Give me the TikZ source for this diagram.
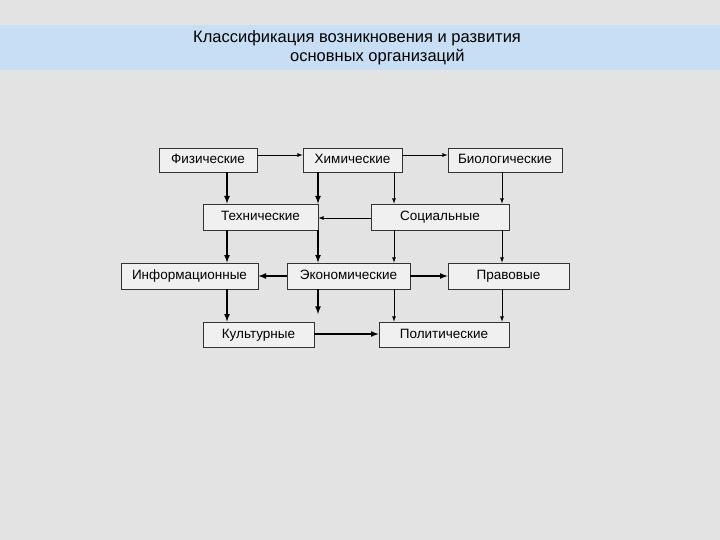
\documentclass[tikz,border=0pt]{standalone}
\usepackage{fontspec}
\setmainfont{Liberation Sans}
\definecolor{band}{RGB}{200,222,245}
\begin{document}
\begin{tikzpicture}[x=1pt,y=-1pt,
  box/.style={draw=black!80,line width=0.8pt,fill=gray!12,font=\fontsize{13.5}{15}\selectfont,text height=7pt,text depth=0pt},
  arr/.style={-latex,line width=0.8pt},
  tarr/.style={-latex,line width=1.6pt}]
\fill[gray!22] (0,0) rectangle (720,540);
\fill[band] (0,25) rectangle (720,70);
\node[font=\fontsize{16.5}{19}\selectfont,anchor=west,inner sep=0] (title1) at (193,38) {Классификация возникновения и развития};
\node[font=\fontsize{16.5}{19}\selectfont,anchor=west,inner sep=0] (title2) at (290,57) {основных организаций};
\newcommand{\bx}[6]{\node[box,minimum width=#4-#2,minimum height=#5-#3,inner sep=0] (#1) at ({(#2+#4)/2},{(#3+#5)/2}) {#6};}
\bx{fiz}{159}{148}{257}{172}{Физические}
\bx{him}{303}{148}{402}{172}{Химические}
\bx{bio}{448}{148}{562}{172}{Биологические}
\bx{teh}{203}{204}{318}{230}{Технические}
\bx{soc}{371}{204}{509}{230}{Социальные}
\bx{inf}{121}{263}{258}{289}{Информационные}
\bx{eko}{287}{263}{410}{289}{Экономические}
\bx{pra}{448}{263}{569}{289}{Правовые}
\bx{kul}{203}{322}{314}{347}{Культурные}
\bx{pol}{379}{322}{509}{347}{Политические}
\draw[arr] (fiz.east|-0,155) -- (him.west|-0,155);
\draw[arr] (him.east|-0,155) -- (bio.west|-0,155);
\draw[tarr] (fiz.south-|227,0) -- (teh.north-|227,0);
\draw[tarr] (him.south-|318,0) -- (teh.north-|318,0);
\draw[arr] (him.south-|394,0) -- (soc.north-|394,0);
\draw[arr] (bio.south-|502,0) -- (soc.north-|502,0);
\draw[arr] (soc.west|-0,218) -- (teh.east|-0,218);
\draw[tarr] (teh.south-|227,0) -- (inf.north-|227,0);
\draw[tarr] (teh.south-|318,0) -- (eko.north-|318,0);
\draw[arr] (soc.south-|394,0) -- (eko.north-|394,0);
\draw[arr] (soc.south-|502,0) -- (pra.north-|502,0);
\draw[tarr] (eko.west|-0,276) -- (inf.east|-0,276);
\draw[tarr] (eko.east|-0,276) -- (pra.west|-0,276);
\draw[tarr] (inf.south-|227,0) -- (kul.north-|227,0);
\coordinate (e1) at (318,314);
\draw[tarr] (eko.south-|318,0) -- (e1);
\draw[arr] (eko.south-|394,0) -- (pol.north-|394,0);
\draw[arr] (pra.south-|502,0) -- (pol.north-|502,0);
\draw[tarr] (kul.east|-0,334) -- (pol.west|-0,334);
\end{tikzpicture}
\end{document}
